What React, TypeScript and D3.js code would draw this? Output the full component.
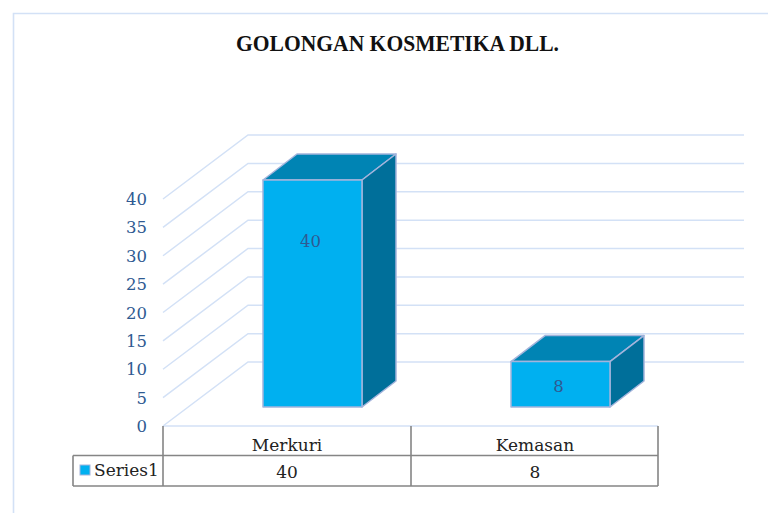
import React from "react";
import * as d3 from "d3";

const title = "GOLONGAN KOSMETIKA DLL.";
const categories = ["Merkuri", "Kemasan"];
const seriesName = "Series1";
const values = [40, 8];
const labelLevels = [29.2, 3.7];
const ticks = [0, 5, 10, 15, 20, 25, 30, 35, 40];

const FONT = "'DejaVu Serif', serif";
const BLUE = "#00b0f0";
const TOP = "#0084b4";
const SIDE = "#006f9a";
const EDGE = "#a3b4dc";
const GRID = "#d3e1f6";
const TICK = "#2f5a92";
const TABLE = "#858585";

export default function App() {
  const y = d3.scaleLinear().domain([0, 40]).range([426, 199]);
  const x = d3.scaleBand<string>().domain(categories).range([163, 659]).paddingInner(0).paddingOuter(0);
  const dx = 85, dy = -64;
  const barW = 99, bdx = 34, bdy = -26, baseLift = 19;
  const barShift = 25.5;
  return (
    <svg width={768} height={513} style={{ position: "absolute", left: 0, top: 0, background: "#fff" }} fontFamily={FONT}>
      <path d="M13.5 513V13.5H768" fill="none" stroke={GRID} strokeWidth={1.6} />
      <text x={397.5} y={51} textAnchor="middle" fontSize={23} fontWeight={700} fontFamily="'Liberation Serif', serif" fill="#111" textLength={323} lengthAdjust="spacingAndGlyphs">{title}</text>
      {ticks.map((t) => (
        <g key={t}>
          <path d={`M163 ${y(t)}L${163 + dx} ${y(t) + dy}H744`} fill="none" stroke={GRID} strokeWidth={1.5} />
          <text x={147} y={y(t) + 6} textAnchor="end" fontSize={16.5} fill={TICK}>{t}</text>
        </g>
      ))}
      {categories.map((c, i) => {
        const left = x(c)! + (x.bandwidth() - barW) / 2 + barShift;
        const right = left + barW;
        const base = y(0) - baseLift;
        const top = base - (y(0) - y(values[i]));
        const labelY = base - (y(0) - y(labelLevels[i]));
        return (
          <g key={c} stroke={EDGE} strokeWidth={1.5} strokeLinejoin="round">
            <path d={`M${left} ${top}l${bdx} ${bdy}h${barW}l${-bdx} ${-bdy}Z`} fill={TOP} />
            <path d={`M${right} ${top}l${bdx} ${bdy}V${base + bdy}l${-bdx} ${-bdy}Z`} fill={SIDE} />
            <rect x={left} y={top} width={barW} height={base - top} fill={BLUE} />
            <text x={left + barW / 2 - 2} y={labelY + 6} textAnchor="middle" fontSize={16.5} fill={TICK} stroke="none">{values[i]}</text>
          </g>
        );
      })}
      <path d="M163 426H658" fill="none" stroke={GRID} strokeWidth={1.5} />
      <path d="M163 426V486M411 426V486M658 426V486M73 455.5H658M73 486H658M73 455.5V486" fill="none" stroke={TABLE} strokeWidth={1.6} />
      <rect x={80} y={465} width={10} height={10} fill={BLUE} stroke={EDGE} strokeWidth={1} />
      <text x={94} y={476} fontSize={17} fill="#222">{seriesName}</text>
      {categories.map((c, i) => (
        <g key={c} fontSize={17} fill="#222" textAnchor="middle">
          <text x={x(c)! + x.bandwidth() / 2} y={451}>{c}</text>
          <text x={x(c)! + x.bandwidth() / 2} y={478}>{values[i]}</text>
        </g>
      ))}
    </svg>
  );
}
